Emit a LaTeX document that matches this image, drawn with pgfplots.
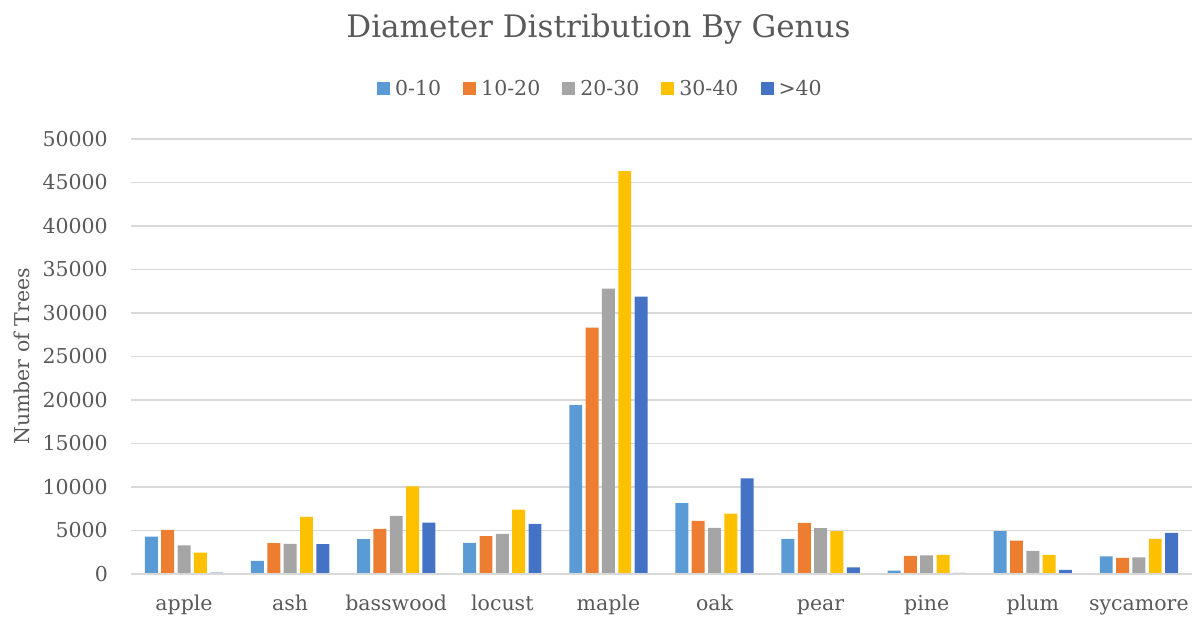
\documentclass[border=0pt]{standalone}
\usepackage{pgfplots}
\pgfplotsset{compat=1.18}
\usepackage{fontspec}
\setmainfont{DejaVu Serif}
\definecolor{cA}{HTML}{5B9BD5}
\definecolor{cB}{HTML}{ED7D31}
\definecolor{cC}{HTML}{A5A5A5}
\definecolor{cD}{HTML}{FFC000}
\definecolor{cE}{HTML}{4472C4}
\definecolor{txt}{HTML}{595959}
\definecolor{grd}{HTML}{D9D9D9}
\begin{document}
\begin{tikzpicture}
\path[use as bounding box] (0pt,0pt) rectangle (1197pt,621pt);
\begin{axis}[
  at={(131pt,47pt)}, anchor=south west,
  scale only axis, width=1061pt, height=435pt,
  xmin=-0.5, xmax=9.5, ymin=0, ymax=50000,
  xtick={0,...,9},
  xticklabels={apple,ash,basswood,locust,maple,oak,pear,pine,plum,sycamore},
  ytick={0,5000,...,50000},
  scaled y ticks=false,
  /pgf/number format/fixed,
  /pgf/number format/1000 sep={},
  /pgf/number format/assume math mode=true,
  tick style={draw=none},
  axis line style={draw=none},
  axis x line*=bottom,
  ymajorgrids, grid style={grd, line width=1.3pt},
  ticklabel style={font=\fontsize{20.5}{24}\selectfont, text=txt},
  yticklabel style={anchor=east, inner sep=0pt, xshift=-23pt},
  xticklabel style={anchor=base, inner sep=0pt, yshift=-37pt},
  ylabel={Number of Trees},
  ylabel style={at={(axis description cs:-0.1027,0.5)}, anchor=center, font=\fontsize{20.5}{24}\selectfont, text=txt},
  title={Diameter Distribution By Genus},
  title style={at={(axis description cs:0.5,1)}, anchor=center, xshift=-63pt, yshift=104pt, font=\fontsize{31}{36}\selectfont, text=txt},
  legend columns=5,
  legend style={at={(axis description cs:0.5,1)}, anchor=center, xshift=-61pt, yshift=50pt, draw=none, fill=none,
    font=\fontsize{20.5}{24}\selectfont, text=txt,
    /tikz/every even column/.append style={column sep=20pt},
    /tikz/every odd column/.append style={column sep=3pt}},
  legend image code/.code={\path[#1,draw=none] (0pt,-6.5pt) rectangle (13pt,6.5pt);},
  every axis plot/.append style={draw=none, bar width=0.122},
]
\addplot[ybar, fill=cA, bar shift=-0.308] coordinates {(0,4300) (1,1500) (2,4000) (3,3570) (4,19420) (5,8150) (6,4030) (7,380) (8,4920) (9,2040)};
\addplot[ybar, fill=cB, bar shift=-0.154] coordinates {(0,5070) (1,3540) (2,5180) (3,4340) (4,28320) (5,6100) (6,5880) (7,2070) (8,3840) (9,1840)};
\addplot[ybar, fill=cC, bar shift=0] coordinates {(0,3300) (1,3450) (2,6680) (3,4610) (4,32810) (5,5300) (6,5260) (7,2150) (8,2650) (9,1920)};
\addplot[ybar, fill=cD, bar shift=0.154] coordinates {(0,2450) (1,6570) (2,10060) (3,7410) (4,46300) (5,6950) (6,4920) (7,2190) (8,2190) (9,4030)};
\addplot[ybar, fill=cE, bar shift=0.308] coordinates {(0,150) (1,3420) (2,5910) (3,5760) (4,31890) (5,10980) (6,770) (7,120) (8,460) (9,4720)};
\legend{0-10,10-20,20-30,30-40,>40}
\draw[grd, line width=1.3pt] (rel axis cs:0,0) -- (rel axis cs:1,0);
\end{axis}
\end{tikzpicture}
\end{document}
